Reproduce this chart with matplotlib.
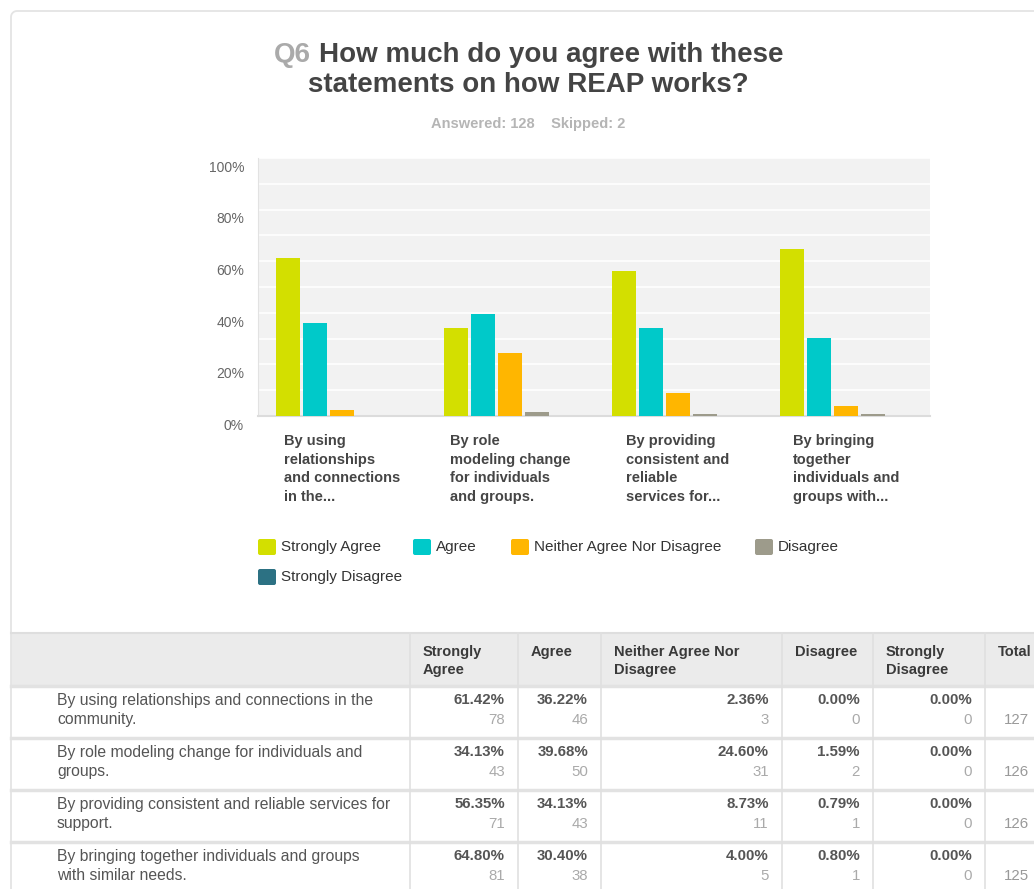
import numpy as np
import matplotlib
matplotlib.use('Agg')
import matplotlib.pyplot as plt
from matplotlib.patches import FancyBboxPatch, Rectangle
from matplotlib.transforms import ScaledTranslation

plt.rcParams['font.family'] = ['Liberation Sans', 'DejaVu Sans']

# ---- data ----
series = ['Strongly Agree', 'Agree', 'Neither Agree Nor Disagree', 'Disagree', 'Strongly Disagree']
colors = ['#d3df00', '#00c9c9', '#ffb600', '#9d9b8b', '#2c7183']

chart_labels = [
    'By using\nrelationships\nand connections\nin the...',
    'By role\nmodeling change\nfor individuals\nand groups.',
    'By providing\nconsistent and\nreliable\nservices for...',
    'By bringing\ntogether\nindividuals and\ngroups with...',
]
row_labels = [
    'By using relationships and connections in the\ncommunity.',
    'By role modeling change for individuals and\ngroups.',
    'By providing consistent and reliable services for\nsupport.',
    'By bringing together individuals and groups\nwith similar needs.',
]
strongly_agree = [61.42, 34.13, 56.35, 64.80]
agree = [36.22, 39.68, 34.13, 30.40]
neither = [2.36, 24.60, 8.73, 4.00]
disagree = [0.00, 1.59, 0.79, 0.80]
strongly_disagree = [0.00, 0.00, 0.00, 0.00]

count_sa = [78, 43, 71, 81]
count_a = [46, 50, 43, 38]
count_n = [3, 31, 11, 5]
count_d = [0, 2, 1, 1]
count_sd = [0, 0, 0, 0]
totals = [127, 126, 126, 125]

pct_table = [strongly_agree, agree, neither, disagree, strongly_disagree]
cnt_table = [count_sa, count_a, count_n, count_d, count_sd]

W, H = 1034, 889
fig = plt.figure(figsize=(W / 100, H / 100), dpi=100)

# full-figure overlay in pixel units for the card, title, legend and table
bg = fig.add_axes([0, 0, 1, 1])
bg.set_xlim(0, W)
bg.set_ylim(H, 0)
bg.axis('off')

# card border: left and top edges with a rounded corner
r = 6
theta = np.linspace(np.pi, 1.5 * np.pi, 12)
corner_x = 11 + r + r * np.cos(theta)
corner_y = 11 + r + r * np.sin(theta)
bg.plot(np.r_[11, corner_x, W], np.r_[H, corner_y, 11], color='#e4e4e4', lw=1.3)

# title with a grey question number
renderer = fig.canvas.get_renderer()
t_q = bg.text(0, 55, 'Q6', fontsize=20, fontweight='bold', color='#aaaaaa', va='center', ha='left')
t_rest = bg.text(0, 55, 'How much do you agree with these', fontsize=20, fontweight='bold',
                 color='#444444', va='center', ha='left')
w_q = t_q.get_window_extent(renderer).width
w_rest = t_rest.get_window_extent(renderer).width
gap = 8
start = 529 - (w_q + gap + w_rest) / 2
t_q.set_x(start)
t_rest.set_x(start + w_q + gap)
bg.text(528, 85, 'statements on how REAP works?', fontsize=20, fontweight='bold',
        color='#444444', va='center', ha='center')
bg.text(528, 124, 'Answered: 128    Skipped: 2', fontsize=10.5, fontweight='bold',
        color='#b5b5b5', va='center', ha='center')

# ---- bar chart ----
ax = fig.add_axes([258 / W, 1 - 416 / H, (930 - 258) / W, (416 - 158) / H])
ax.set_facecolor('#f2f2f2')
x = np.arange(len(chart_labels))
step = 27 / 168
width = 24 / 168
for i, (name, vals) in enumerate(zip(series, pct_table)):
    ax.bar(x + (i - 2) * step, vals, width=width, color=colors[i], label=name, zorder=3)

ax.set_xlim(-0.5, len(chart_labels) - 0.5)
ax.set_ylim(0, 100)
ax.set_yticks(np.arange(0, 101, 20))
ax.set_yticklabels([f'{v}%' for v in range(0, 101, 20)])
ax.set_yticks(np.arange(10, 100, 20), minor=True)
ax.grid(axis='y', which='both', color='white', lw=1.2, zorder=0)
ax.tick_params(axis='y', which='both', length=0, pad=10, labelsize=10, labelcolor='#666666')
shift = ScaledTranslation(0, -2 / 72, fig.dpi_scale_trans)
for lbl in ax.get_yticklabels():
    lbl.set_va('top')
    lbl.set_transform(lbl.get_transform() + shift)
ax.set_xticks([])
for s in ['top', 'right']:
    ax.spines[s].set_visible(False)
ax.spines['left'].set_color('#e2e2e2')
ax.spines['bottom'].set_color('#dcdcdc')
ax.spines['bottom'].set_linewidth(1.5)

for i, lab in enumerate(chart_labels):
    ax.annotate(lab, xy=(x[i], 0), xycoords=('data', 'axes fraction'),
                xytext=(0, -13), textcoords='offset points', ha='center', va='top',
                multialignment='left', fontsize=10.5, fontweight='bold', color='#454545',
                linespacing=1.42)

# ---- legend ----
legend_pos = [(258, 547), (413, 547), (511, 547), (755, 547), (258, 577)]
for (lx, ly), name, c in zip(legend_pos, series, colors):
    bg.add_patch(FancyBboxPatch((lx + 1, ly - 7), 16, 14, boxstyle='round,pad=1,rounding_size=2',
                                facecolor=c, edgecolor='none'))
    bg.text(lx + 23, ly, name, fontsize=11, color='#333333', va='center', ha='left')

# ---- table ----
col_edges = [11, 410, 518, 601, 782, 873, 985, W + 5]
header_top, header_bot = 633, 686
row_h = 52
bg.add_patch(Rectangle((11, header_top), W, header_bot - header_top, facecolor='#ebebeb',
                       edgecolor='none'))
bg.plot([11, W], [header_top, header_top], color='#dedede', lw=1.5)
for k in range(len(row_labels) + 1):
    yy = header_bot + k * row_h
    bg.plot([11, W], [yy, yy], color='#e2e2e2', lw=2.5)
for cx in col_edges[1:-1]:
    bg.plot([cx, cx], [header_top, H], color='#e0e0e0', lw=1.2)

headers = ['Strongly\nAgree', 'Agree', 'Neither Agree Nor\nDisagree', 'Disagree', 'Strongly\nDisagree', 'Total']
for j, htxt in enumerate(headers):
    bg.text(col_edges[j + 1] + 13, 645, htxt, fontsize=10.5, fontweight='bold', color='#3a3a3a',
            va='top', ha='left', linespacing=1.35)

for k, lab in enumerate(row_labels):
    top = header_bot + k * row_h
    bg.text(57, top + 7, lab, fontsize=11.3, color='#555555', va='top', ha='left', linespacing=1.32)
    for j in range(len(series)):
        right = col_edges[j + 2] - 13
        bg.text(right, top + 14, f'{pct_table[j][k]:.2f}%', fontsize=10.8, fontweight='bold',
                color='#555555', va='center', ha='right')
        bg.text(right, top + 34, str(cnt_table[j][k]), fontsize=10.8, color='#aaaaaa',
                va='center', ha='right')
    bg.text(1004, top + 34, str(totals[k]), fontsize=10.8, color='#999999', va='center', ha='left')

fig.savefig('out.png', dpi=100)
